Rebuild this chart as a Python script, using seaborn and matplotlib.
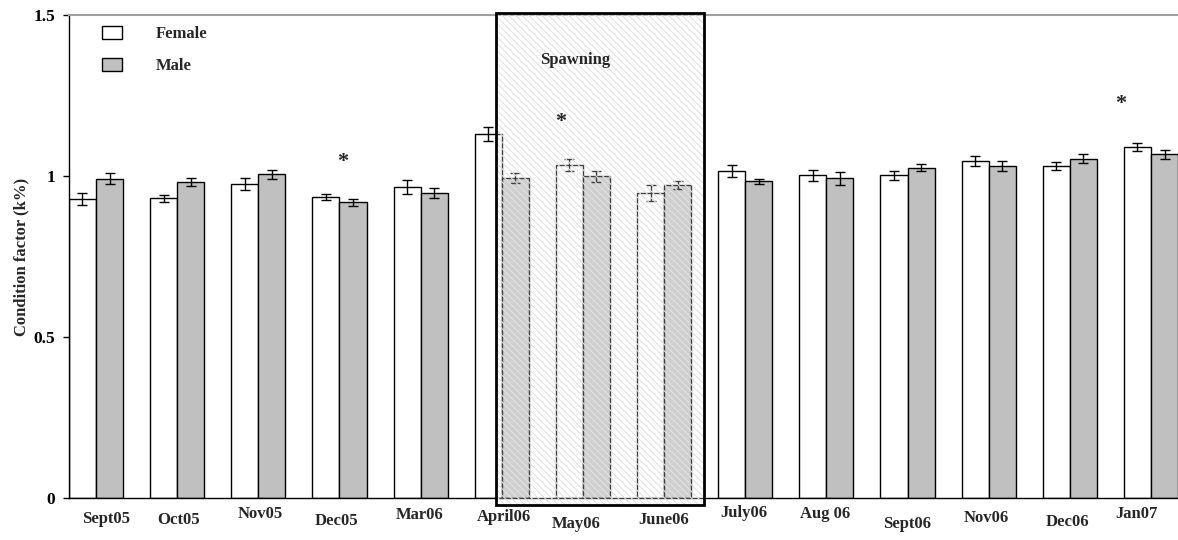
import pandas as pd
import numpy as np
import seaborn as sns
import matplotlib.pyplot as plt
from matplotlib.patches import Rectangle

# Data
months = ['Sept05', 'Oct05', 'Nov05', 'Dec05', 'Mar06', 'April06', 'May06',
          'June06', 'July06', 'Aug 06', 'Sept06', 'Nov06', 'Dec06', 'Jan07']
female_k = [0.928, 0.931, 0.975, 0.935, 0.965, 1.131, 1.033,
            0.948, 1.016, 1.002, 1.002, 1.046, 1.030, 1.091]
female_se = [0.018, 0.011, 0.018, 0.010, 0.022, 0.022, 0.019,
             0.025, 0.018, 0.017, 0.015, 0.016, 0.012, 0.013]
male_k = [0.992, 0.981, 1.005, 0.918, 0.948, 0.993, 0.999,
          0.972, 0.984, 0.993, 1.026, 1.030, 1.054, 1.067]
male_se = [0.017, 0.013, 0.013, 0.010, 0.015, 0.015, 0.017,
           0.013, 0.008, 0.020, 0.012, 0.016, 0.014, 0.014]

# significant differences
star_months = ['Dec05', 'May06', 'Jan07']
star_heights = [1.043, 1.168, 1.224]

df = pd.DataFrame({
    'month': months * 2,
    'sex': ['Female'] * len(months) + ['Male'] * len(months),
    'k': female_k + male_k,
})

sns.set_theme(style='white')
plt.rcParams['font.family'] = ['Liberation Serif', 'DejaVu Serif']
plt.rcParams['font.weight'] = 'bold'
plt.rcParams['hatch.linewidth'] = 0.8

fig = plt.figure(figsize=(11.78, 5.4), dpi=100)
ax = fig.add_axes([69 / 1178, 1 - 498 / 540, 1 - 69 / 1178, (498 - 15) / 540])

sns.barplot(data=df, x='month', y='k', hue='sex', order=months,
            palette={'Female': 'white', 'Male': '#c0c0c0'},
            width=0.667, gap=0, edgecolor='black', linewidth=1,
            errorbar=None, ax=ax)

# error bars on top of each bar
for cont, se in zip(ax.containers, [female_se, male_se]):
    xs = [b.get_x() + b.get_width() / 2 for b in cont]
    hs = [b.get_height() for b in cont]
    ax.errorbar(xs, hs, yerr=se, fmt='none', ecolor='black',
                elinewidth=1, capsize=3.5, capthick=1, zorder=3)

ax.set_xlim(-0.333, 13.333)
ax.set_ylim(0, 1.5)
ax.set_yticks([0, 0.5, 1, 1.5])
ax.set_yticklabels(['0', '0.5', '1', '1.5'], fontsize=12.5, fontweight='bold')
ax.tick_params(axis='y', left=True, length=4, width=1, pad=6, colors='black')
ax.tick_params(axis='x', bottom=False, labelbottom=False)
ax.set_xlabel('')
ax.set_ylabel('Condition factor (k%)', fontsize=12, fontweight='bold')
ax.yaxis.set_label_coords(-0.036, 0.5)

for side in ['left', 'bottom']:
    ax.spines[side].set_color('black')
    ax.spines[side].set_linewidth(1)
ax.spines['right'].set_visible(False)
ax.spines['top'].set_color('#a0a0a0')
ax.spines['top'].set_linewidth(1.5)

# month labels, slightly jittered like the original
dx = [10, 1, 2, -3, -1, 2, -7, 0, -1, -1, 0, -2, -2, -14]
dy = [21, 22, 16, 23, 17, 19, 26, 22, 15, 16, 26, 20, 24, 16]
for i, m in enumerate(months):
    ax.annotate(m, xy=(i, 0), xycoords=('data', 'axes fraction'),
                xytext=(dx[i], -dy[i]), textcoords='offset pixels',
                ha='center', va='center', fontsize=12, fontweight='bold',
                annotation_clip=False)

# spawning period box
ax.add_patch(Rectangle((4.93, -0.022), 2.56, 1.528, facecolor=(1, 1, 1, 0.25),
                       edgecolor='#e2e2e2', hatch='\\\\\\\\\\', linewidth=0,
                       clip_on=False, zorder=4))
ax.add_patch(Rectangle((4.93, -0.022), 2.56, 1.528, fill=False,
                       edgecolor='black', linewidth=2, clip_on=False, zorder=5))
ax.text(5.9, 1.36, 'Spawning', ha='center', va='center', fontsize=12,
        fontweight='bold', zorder=6)

star_x = [0.04, -0.28, -0.37]
for m, h, off in zip(star_months, star_heights, star_x):
    ax.text(months.index(m) + off, h, '*', ha='center', va='center',
            fontsize=16, fontweight='bold', zorder=6)

handles, labels = ax.get_legend_handles_labels()
ax.legend(handles, labels, loc='upper left', bbox_to_anchor=(0.03, 0.978),
          frameon=False, borderaxespad=0, borderpad=0, handlelength=1.2,
          handleheight=0.85, handletextpad=2.0, labelspacing=0.95,
          prop={'size': 12, 'weight': 'bold'})

fig.savefig('out.png', dpi=100)
